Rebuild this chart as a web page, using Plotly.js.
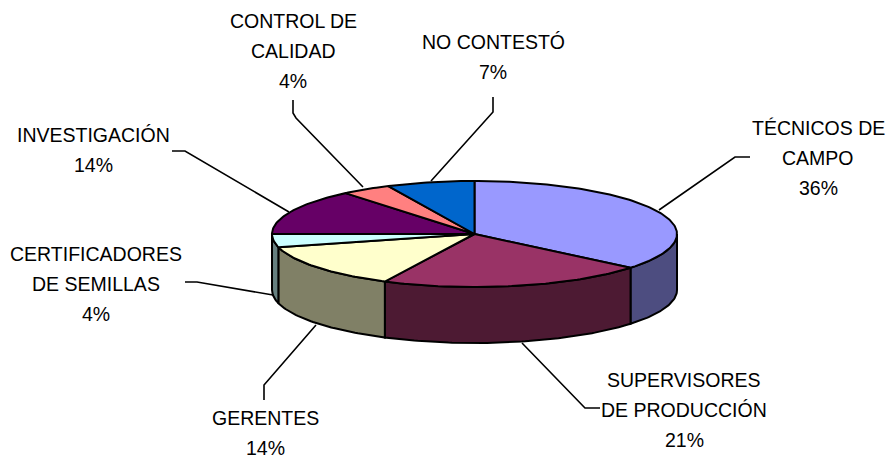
<!DOCTYPE html>
<html>
<head>
<meta charset="utf-8">
<script src="https://cdn.plot.ly/plotly-3.0.1.min.js"></script>
<style>html,body{margin:0;padding:0;background:#fff}#c{width:887px;height:458px}</style>
</head>
<body>
<div id="c"></div>
<script>
// Data, clockwise from 12 o'clock
const categories = ["TÉCNICOS DE CAMPO","SUPERVISORES DE PRODUCCIÓN","GERENTES","CERTIFICADORES DE SEMILLAS","INVESTIGACIÓN","CONTROL DE CALIDAD","NO CONTESTÓ"];
const values = [36,21.3,13.7,4,14,4,7];
const topColors = ["#9999FF","#993366","#FFFFCC","#CCFFFF","#660066","#FF8080","#0066CC"];
const sideColors = ["#4D4D80","#4D1A33","#808066","#668080","#330033","#804040","#003366"];
const labelLines = [["TÉCNICOS DE","CAMPO"],["SUPERVISORES","DE PRODUCCIÓN"],["GERENTES"],["CERTIFICADORES","DE SEMILLAS"],["INVESTIGACIÓN"],["CONTROL DE","CALIDAD"],["NO CONTESTÓ"]];

// Layout of the tilted pie (pixel-mapped axes)
const cx = 474.5, cy = 234, rx = 202.5, ry = 53, depth = 56;
const labelPos = [[818,128],[684,380],[265,418],[96,254],[93,135],[293,21],[493,42]];
const leaders = [
  [[659,210],[735,157],[750,157]],
  [[522,343],[585,408],[600,408]],
  [[316,325],[264,385],[264,400]],
  [[273,295],[197,282],[185,282]],
  [[289,212],[185,151],[172,151]],
  [[363,187],[296,118],[293,113],[293,100]],
  [[431,181],[493,112],[493,97]]
];

const total = values.reduce((a,b)=>a+b,0);
const pt = (deg,dy=0)=>{const t=deg*Math.PI/180;return [cx+rx*Math.sin(t), cy-ry*Math.cos(t)+dy];};
const arc = (a,b,dy=0)=>{const out=[];const n=Math.max(2,Math.ceil(Math.abs(b-a)));for(let i=0;i<=n;i++)out.push(pt(a+(b-a)*i/n,dy));return out;};
const poly = (pts,fill)=>({type:'scatter',mode:'lines',x:pts.map(p=>p[0]),y:pts.map(p=>p[1]),fill:'toself',fillcolor:fill,line:{color:'#000',width:2},hoverinfo:'skip',showlegend:false});

const walls=[], tops=[];
let acc=0;
values.forEach((v,i)=>{
  const a=acc/total*360; acc+=v; const b=acc/total*360;
  const wa=Math.max(a,90), wb=Math.min(b,270);
  if(wb>wa){
    const pts=arc(wa,wb).concat(arc(wb,wa,depth));
    pts.push(pts[0]);
    walls.push(poly(pts,sideColors[i]));
  }
  const pts=[[cx,cy]].concat(arc(a,b));
  pts.push([cx,cy]);
  tops.push(poly(pts,topColors[i]));
});

const leaderTraces = leaders.map(l=>({type:'scatter',mode:'lines',x:l.map(p=>p[0]),y:l.map(p=>p[1]),line:{color:'#000',width:1.6},hoverinfo:'skip',showlegend:false}));

const annotations=[];
const lineGap=30;
categories.forEach((c,i)=>{
  const lines=labelLines[i].concat([Math.round(values[i])+'%']);
  lines.forEach((t,j)=>annotations.push({x:labelPos[i][0],y:labelPos[i][1]+j*lineGap,xref:'x',yref:'y',text:t,showarrow:false,xanchor:'center',yanchor:'middle',font:{family:'"Liberation Sans",Arial,sans-serif',size:19.5,color:'#000'}}));
});

Plotly.newPlot('c',leaderTraces.concat(walls,tops),{
  width:887,height:458,margin:{l:0,r:0,t:0,b:0},paper_bgcolor:'#fff',plot_bgcolor:'#fff',showlegend:false,
  xaxis:{range:[0,887],visible:false,fixedrange:true},
  yaxis:{range:[458,0],visible:false,fixedrange:true},
  annotations
},{displayModeBar:false,staticPlot:true});
</script>
</body>
</html>
